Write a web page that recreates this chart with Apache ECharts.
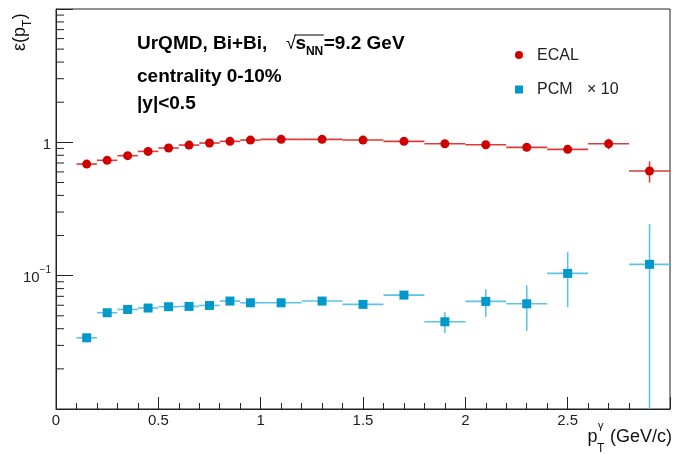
<!DOCTYPE html>
<html>
<head>
<meta charset="utf-8">
<script src="https://cdn.jsdelivr.net/npm/echarts@6/dist/echarts.min.js"></script>
<style>
  html, body { margin: 0; padding: 0; background: #fff; }
  #chart { width: 674px; height: 454px; }
</style>
</head>
<body>
<div id="chart"></div>
<script>
// pT bins: centres and half widths (GeV/c)
const ptCenter    = [0.15, 0.25, 0.35, 0.45, 0.55, 0.65, 0.75, 0.85, 0.95, 1.1, 1.3, 1.5, 1.7, 1.9, 2.1, 2.3, 2.5, 2.7, 2.9];
const ptHalfWidth = [0.05, 0.05, 0.05, 0.05, 0.05, 0.05, 0.05, 0.05, 0.05, 0.1, 0.1, 0.1, 0.1, 0.1, 0.1, 0.1, 0.1, 0.1, 0.1];

// ECAL efficiency and its statistical error
const ecalEff = [0.687, 0.733, 0.794, 0.855, 0.906, 0.954, 0.988, 1.017, 1.04, 1.053, 1.053, 1.04, 1.017, 0.976, 0.959, 0.917, 0.886, 0.976, 0.609];
const ecalErr = [0.01, 0.01, 0.01, 0.01, 0.01, 0.01, 0.01, 0.012, 0.012, 0.012, 0.012, 0.015, 0.015, 0.015, 0.02, 0.02, 0.02, 0.09, 0.11];

// PCM efficiency (scaled by 10) and its error; no entry in the 2.6-2.8 bin
const pcmEffX10 = [0.0342, 0.0527, 0.0558, 0.0572, 0.0585, 0.0588, 0.0598, 0.0645, 0.0626, 0.0626, 0.0645, 0.0609, 0.0715, 0.0451, 0.0641, 0.0615, 0.104, null, 0.1216];
const pcmErr    = [0.0008, 0.001, 0.001, 0.001, 0.001, 0.001, 0.001, 0.0012, 0.0012, 0.0012, 0.0015, 0.002, 0.004, 0.008, 0.015, 0.023, 0.046, null, 0.122];

// axis labels
const xTickLabels = ['0', '0.5', '1', '1.5', '2', '2.5'];
const yMinorMantissa = [2, 3, 4, 5, 6, 7, 8, 9];
const yDecades = [0.01, 0.1, 1];

const FONT = '"Liberation Sans", Arial, Helvetica, sans-serif';
const RED = '#d00000', RED_LINE = '#dd3a3a';
const BLUE = '#0398cc', BLUE_LINE = '#5ec2e4';
const X_MIN = 0, X_MAX = 3, Y_MIN = 0.01, Y_MAX = 10;

function rows(vals, errs) {
  const out = [];
  ptCenter.forEach((x, i) => {
    if (vals[i] != null) out.push([x, vals[i], ptHalfWidth[i], errs[i]]);
  });
  return out;
}

function errorRenderer(fill, stroke, shape) {
  return function (params, api) {
    const x = api.value(0), y = api.value(1), hw = api.value(2), e = api.value(3);
    const c = api.coord([x, y]);
    const l = api.coord([x - hw, y]);
    const r = api.coord([x + hw, y]);
    const top = api.coord([x, Math.min(y + e, Y_MAX)]);
    const bot = api.coord([x, Math.max(y - e, Y_MIN)]);
    const children = [
      { type: 'line', shape: { x1: l[0], y1: c[1], x2: r[0], y2: c[1] }, style: { stroke: stroke, lineWidth: 1.6 } },
      { type: 'line', shape: { x1: c[0], y1: top[1], x2: c[0], y2: bot[1] }, style: { stroke: stroke, lineWidth: 1.6 } }
    ];
    if (shape === 'circle') {
      children.push({ type: 'circle', shape: { cx: c[0], cy: c[1], r: 4.5 }, style: { fill: fill } });
    } else {
      children.push({ type: 'rect', shape: { x: c[0] - 4.5, y: c[1] - 4.5, width: 9, height: 9 }, style: { fill: fill } });
    }
    return { type: 'group', children: children };
  };
}

// log-spaced minor ticks on the y axis
const yMinorValues = [];
yDecades.forEach(d => yMinorMantissa.forEach(m => yMinorValues.push([X_MIN, m * d])));

function minorTickRenderer(params, api) {
  const p = api.coord([api.value(0), api.value(1)]);
  return { type: 'line', shape: { x1: p[0], y1: p[1], x2: p[0] + 8, y2: p[1] }, style: { stroke: '#222', lineWidth: 1 } };
}

// text measuring for composed titles
const mctx = document.createElement('canvas').getContext('2d');
function textWidth(str, size, weight) {
  mctx.font = (weight || 'normal') + ' ' + size + 'px ' + FONT;
  return mctx.measureText(str).width;
}

const chart = echarts.init(document.getElementById('chart'), null, { renderer: 'canvas' });

// x axis title: p_T^gamma (GeV/c), right aligned
const xtRight = 672, xtY = 437;
const unitW = textWidth('(GeV/c)', 18);
const unitX = xtRight - unitW;
const scriptX = unitX - 12;
const pX = scriptX - textWidth('p', 18) - 0.5;

// y axis title: eps(p_T), rotated, reading upward from yt0
const yt0 = 51, ytX = 20;
const w1 = textWidth('ε(p', 18), w2 = textWidth('T', 12);

// sqrt(s_NN) annotation pieces
const sqX = 286;
const sX = sqX + textWidth('√', 18) - 0.5;
const nnX = sX + textWidth('s', 19, 'bold');
const eqX = nnX + textWidth('NN', 12, 'bold') + 0.5;

const graphics = [
  { type: 'text', x: 137, y: 44, style: { text: 'UrQMD, Bi+Bi,', font: 'bold 19px ' + FONT, fill: '#000', verticalAlign: 'middle' } },
  { type: 'text', x: sqX, y: 44, style: { text: '√', font: '18px ' + FONT, fill: '#000', verticalAlign: 'middle' } },
  { type: 'line', shape: { x1: sX - 1, y1: 35, x2: eqX, y2: 35 }, style: { stroke: '#000', lineWidth: 1 } },
  { type: 'text', x: sX, y: 44, style: { text: 's', font: 'bold 19px ' + FONT, fill: '#000', verticalAlign: 'middle' } },
  { type: 'text', x: nnX, y: 52, style: { text: 'NN', font: 'bold 12px ' + FONT, fill: '#000', verticalAlign: 'middle' } },
  { type: 'text', x: eqX, y: 44, style: { text: '=9.2 GeV', font: 'bold 19px ' + FONT, fill: '#000', verticalAlign: 'middle' } },
  { type: 'text', x: 137, y: 77, style: { text: 'centrality 0-10%', font: 'bold 19px ' + FONT, fill: '#000', verticalAlign: 'middle' } },
  { type: 'text', x: 137, y: 104, style: { text: '|y|<0.5', font: 'bold 19px ' + FONT, fill: '#000', verticalAlign: 'middle' } },

  // legend
  { type: 'circle', shape: { cx: 519, cy: 55, r: 4 }, style: { fill: RED } },
  { type: 'text', x: 537, y: 56, style: { text: 'ECAL', font: '16px ' + FONT, fill: '#222', verticalAlign: 'middle' } },
  { type: 'rect', shape: { x: 515, y: 85.5, width: 8, height: 8 }, style: { fill: BLUE } },
  { type: 'text', x: 537, y: 90, style: { text: 'PCM', font: '16px ' + FONT, fill: '#222', verticalAlign: 'middle' } },
  { type: 'text', x: 587, y: 90, style: { text: '× 10', font: '16px ' + FONT, fill: '#222', verticalAlign: 'middle' } },

  // x title
  { type: 'text', x: pX, y: xtY, style: { text: 'p', font: '18px ' + FONT, fill: '#111', verticalAlign: 'middle' } },
  { type: 'text', x: scriptX, y: xtY - 11, style: { text: 'γ', font: '11px ' + FONT, fill: '#111', verticalAlign: 'middle' } },
  { type: 'text', x: scriptX - 1, y: xtY + 12, style: { text: 'T', font: '12px ' + FONT, fill: '#111', verticalAlign: 'middle' } },
  { type: 'text', x: unitX, y: xtY, style: { text: '(GeV/c)', font: '18px ' + FONT, fill: '#111', verticalAlign: 'middle' } },

  // y title (rotated)
  { type: 'text', x: ytX, y: yt0, rotation: Math.PI / 2, style: { text: 'ε(p', font: '18px ' + FONT, fill: '#111', verticalAlign: 'middle' } },
  { type: 'text', x: ytX + 8, y: yt0 - w1, rotation: Math.PI / 2, style: { text: 'T', font: '12px ' + FONT, fill: '#111', verticalAlign: 'middle' } },
  { type: 'text', x: ytX, y: yt0 - w1 - w2 - 0.5, rotation: Math.PI / 2, style: { text: ')', font: '18px ' + FONT, fill: '#111', verticalAlign: 'middle' } }
];

const option = {
  animation: false,
  backgroundColor: '#fff',
  grid: { left: 56, right: 4, top: 9, bottom: 45, show: true, borderColor: '#222', borderWidth: 1, backgroundColor: 'transparent' },
  xAxis: {
    type: 'value', min: X_MIN, max: X_MAX, interval: 0.5,
    axisLine: { show: true, lineStyle: { color: '#222', width: 1 } },
    axisTick: { show: true, inside: true, length: 12, lineStyle: { color: '#222' } },
    minorTick: { show: true, splitNumber: 5, length: 6, lineStyle: { color: '#222' } },
    splitLine: { show: false },
    axisLabel: {
      margin: 4, fontSize: 15, color: '#222', fontFamily: FONT,
      formatter: v => { const i = Math.round(v / 0.5); return (Math.abs(v - i * 0.5) < 1e-9 && i < xTickLabels.length) ? xTickLabels[i] : ''; }
    }
  },
  yAxis: {
    type: 'log', logBase: 10, min: Y_MIN, max: Y_MAX,
    axisLine: { show: true, lineStyle: { color: '#222', width: 1 } },
    axisTick: { show: true, inside: true, length: 17, lineStyle: { color: '#222' } },
    minorTick: { show: false },
    splitLine: { show: false },
    axisLabel: {
      margin: 5, fontSize: 15, color: '#222', fontFamily: FONT,
      formatter: v => {
        if (Math.abs(v - 1) < 1e-9) return '{m|1}';
        if (Math.abs(v - 0.1) < 1e-9) return '{m|10}{sup|−1}';
        return '';
      },
      rich: {
        m: { fontSize: 15, fontFamily: FONT, color: '#222', verticalAlign: 'bottom', lineHeight: 20 },
        sup: { fontSize: 10, fontFamily: FONT, color: '#222', verticalAlign: 'top', lineHeight: 20 }
      }
    }
  },
  graphic: graphics,
  series: [
    {
      name: 'yMinorTicks', type: 'custom', renderItem: minorTickRenderer, data: yMinorValues,
      silent: true, clip: false, z: 3
    },
    {
      name: 'ECAL', type: 'custom', renderItem: errorRenderer(RED, RED_LINE, 'circle'),
      data: rows(ecalEff, ecalErr), clip: true, z: 5,
      itemStyle: { color: RED }, encode: { x: 0, y: 1 }
    },
    {
      name: 'PCM', type: 'custom', renderItem: errorRenderer(BLUE, BLUE_LINE, 'rect'),
      data: rows(pcmEffX10, pcmErr), clip: true, z: 4,
      itemStyle: { color: BLUE }, encode: { x: 0, y: 1 }
    }
  ]
};

chart.setOption(option);
</script>
</body>
</html>
